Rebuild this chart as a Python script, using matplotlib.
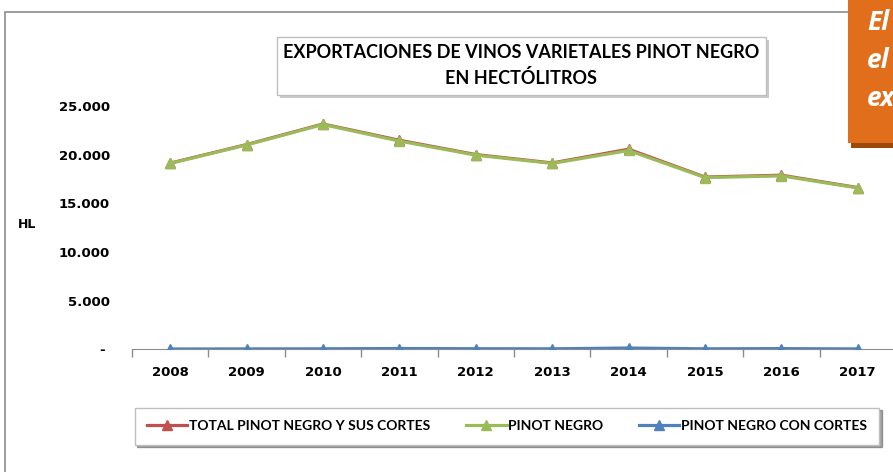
import matplotlib.pyplot as plt
from matplotlib.patches import Rectangle
from matplotlib.ticker import FixedLocator

years = ["2008", "2009", "2010", "2011", "2012", "2013", "2014", "2015", "2016", "2017"]
pinot_con_cortes = [30, 40, 50, 80, 60, 50, 130, 50, 70, 40]
pinot_negro = [19100, 21000, 23100, 21400, 19950, 19100, 20430, 17650, 17820, 16580]
total_pinot = [a + b for a, b in zip(pinot_negro, pinot_con_cortes)]

y_ticks = [0, 5000, 10000, 15000, 20000, 25000]
y_labels = ["- ", "5.000", "10.000", "15.000", "20.000", "25.000"]

red = "#C0504D"
green = "#9BBB59"
blue = "#4F81BD"
narrow = ["Lato", "DejaVu Sans"]

fig = plt.figure(figsize=(8.93, 4.72), dpi=100)
W, H = 893, 472

def fx(px):
    return px / W

def fy(py):
    return 1 - py / H

# outer chart border
fig.patches.append(Rectangle((fx(5), fy(480)), fx(900), fy(12) - fy(480), transform=fig.transFigure,
                             fill=False, edgecolor="#8C8C8C", lw=1.2, zorder=0))

ax = fig.add_axes([fx(132), fy(349.3), fx(896 - 132), fy(106) - fy(349.3)])
x = list(range(len(years)))
ax.plot(x, total_pinot, color=red, lw=2.3, marker="^", ms=7, label="TOTAL PINOT NEGRO Y SUS CORTES", zorder=3)
ax.plot(x, pinot_negro, color=green, lw=2.3, marker="^", ms=7, label="PINOT NEGRO", zorder=4)
ax.plot(x, pinot_con_cortes, color=blue, lw=2.3, marker="^", ms=7, label="PINOT NEGRO CON CORTES", zorder=4)

ax.set_xlim(-0.5, len(years) - 0.5)
ax.set_ylim(0, 25000)
ax.set_xticks(x)
ax.set_xticklabels(years, fontsize=9.5, fontweight="bold")
ax.xaxis.set_minor_locator(FixedLocator([i - 0.5 for i in range(len(years) + 1)]))
ax.tick_params(axis="x", which="major", length=0, pad=12)
ax.tick_params(axis="x", which="minor", length=6, color="#8C8C8C", width=1)
ax.set_yticks(y_ticks)
ax.set_yticklabels(y_labels, fontsize=9.5, fontweight="bold")
ax.tick_params(axis="y", length=0, pad=16)
for s in ["top", "right", "left"]:
    ax.spines[s].set_visible(False)
ax.spines["bottom"].set_color("#8C8C8C")
ax.patch.set_alpha(0)

fig.text(fx(18), fy(224), "HL", fontsize=9, fontweight="bold", va="center", ha="left")

# title box
fig.patches.append(Rectangle((fx(280), fy(98)), fx(489), fy(37) - fy(95), transform=fig.transFigure,
                             facecolor="#C8C8C8", edgecolor="none", zorder=1))
fig.patches.append(Rectangle((fx(277), fy(95)), fx(489), fy(37) - fy(95), transform=fig.transFigure,
                             facecolor="white", edgecolor="#BFBFBF", lw=1, zorder=2))
fig.text(fx(521), fy(53), "EXPORTACIONES DE VINOS VARIETALES PINOT NEGRO", family=narrow,
         fontsize=13, fontweight="bold", ha="center", va="center", zorder=3)
fig.text(fx(521), fy(78), "EN HECTÓLITROS", family=narrow,
         fontsize=13, fontweight="bold", ha="center", va="center", zorder=3)

# legend
leg = fig.legend(loc="center", bbox_to_anchor=(fx(507), fy(426)), ncol=3, frameon=True, fancybox=False,
                 shadow=True, prop={"family": narrow, "weight": "bold", "size": 10},
                 handlelength=2.9, handletextpad=0.1, columnspacing=2.6, borderpad=0.9)
leg.get_frame().set_edgecolor("#BFBFBF")

# orange overlapping text box
fig.patches.append(Rectangle((fx(851), fy(148)), fx(60), fy(140) - fy(148), transform=fig.transFigure,
                             facecolor="#9C4A0A", edgecolor="none", zorder=5))
fig.patches.append(Rectangle((fx(848), fy(143)), fx(60), fy(0) - fy(143), transform=fig.transFigure,
                             facecolor="#E06E1A", edgecolor="none", zorder=6))
for label, py in [("El", 22), ("el", 60), ("ex", 99)]:
    fig.text(fx(867), fy(py), label, color="white", fontsize=19, fontweight="bold", style="italic",
             family=["Open Sans", "DejaVu Sans"], va="center", ha="left", zorder=7)

fig.savefig("out.png", dpi=100)
